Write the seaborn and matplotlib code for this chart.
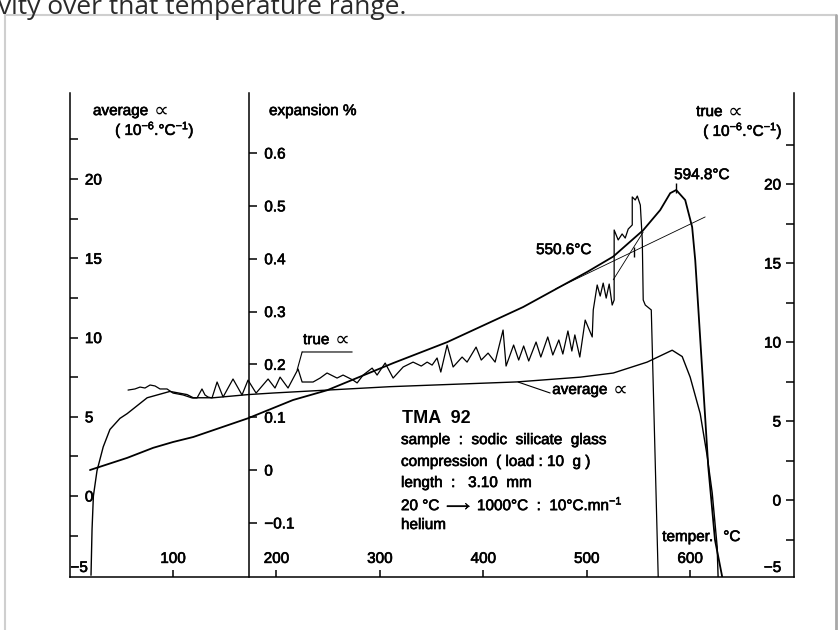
import matplotlib
matplotlib.use("Agg")
import matplotlib.pyplot as plt
import matplotlib.patheffects as pe
from matplotlib.lines import Line2D
import seaborn as sns

# ---- data ----
# average alpha (left scale, 10^-6 / degC)
avg_T = [20.7, 21.7, 23, 26.5, 32.5, 39, 48.7, 55.7, 75, 97, 113.5, 119.5, 139,
         172.6, 197, 310, 432.7, 493.7, 525.6, 558.4, 582.6, 592.3, 600, 609.7,
         616.5, 621.3, 626.1, 627]
avg_alpha = [-5.0, -2.1, 0, 1.6, 3.1, 4.2, 4.9, 5.2, 6.2, 6.6, 6.4, 6.2, 6.2,
             6.4, 6.5, 6.9, 7.2, 7.5, 7.76, 8.45, 9.2, 8.8, 7.5, 5.2,
             2.5, 0.2, -3.2, -5.1]

# true alpha (right scale, 10^-6 / degC)
true_T = [56.5, 63.2, 68.1, 72.9, 77.8, 82.6, 87.4, 94.2, 100.0, 109.7, 118.4,
          123.2, 128.0, 130.9, 133.8, 137.7, 142.6, 148.4, 158.0, 166.7, 172.5,
          180.3, 191.9, 198.6, 203.5, 211.2, 220.9, 224.8, 235.4, 242.2, 248.9,
          258.6, 264.4, 274.1, 278.0, 283.8, 292.5, 297.3, 305.1, 312.8, 322.5,
          332.1, 340.0, 345.7, 350.5, 355.3, 358.9, 365.0, 370.8, 379.5, 384.3,
          393.0, 398.0, 404.6, 411.4, 419.1, 422.0, 429.3, 434.2, 439.0, 443.9,
          451.0, 455.6, 462.3, 467.2, 473.0, 476.9, 481.8, 485.6, 488.5, 493.3,
          498.5, 505.3, 506.3, 510.1, 513.0, 515.9, 518.8, 521.7, 524.6, 526.5,
          526.5, 530.4, 534.2, 537.2, 540.1, 544.0, 544.0, 546.9, 548.9, 551.8,
          553.7, 554.6, 556.6, 562.4, 569.1]
true_alpha = [6.96, 7.03, 7.15, 7.09, 7.28, 7.22, 7.03, 7.03, 6.77, 6.65, 6.46,
              6.46, 7.03, 6.65, 6.52, 6.46, 7.47, 6.52, 7.66, 6.65, 7.59,
              6.77, 7.66, 7.09, 7.78, 7.09, 8.29, 7.47, 7.47, 7.72, 8.04,
              7.72, 7.91, 7.59, 7.41, 7.91, 8.35, 7.91, 8.67, 7.72, 8.42,
              8.73, 8.48, 8.73, 8.54, 8.99, 8.10, 9.81, 8.42, 9.05, 8.73,
              9.68, 8.86, 9.30, 8.73, 10.76, 8.48, 9.81, 8.86, 9.75, 8.80,
              10.00, 9.05, 10.32, 9.18, 10.13, 9.24, 10.70, 9.43, 10.45, 9.05,
              11.39, 10.32, 12.03, 13.61, 12.91, 13.73, 12.78, 13.67, 12.34, 12.66,
              17.09, 16.46, 16.84, 16.58, 17.15, 17.41, 19.18, 18.99, 19.24, 18.67,
              16.46, 12.66, 12.34, 12.03, -4.87]

# expansion % (middle scale)
exp_T = [19.7, 55.7, 80.8, 100, 119.6, 172.6, 216, 249, 313, 365, 438.5, 500.5,
         525.6, 554.6, 571, 580.7, 586.5, 595.2, 601.9, 604.9, 607.8, 617.5,
         624, 631]
exp_pct = [0.0, 0.023, 0.042, 0.053, 0.0625, 0.098, 0.1325, 0.151, 0.2025,
           0.242, 0.3085, 0.375, 0.404, 0.454, 0.492, 0.524, 0.530, 0.511,
           0.46, 0.397, 0.308, 0.006, -0.1325, -0.2025]

# tangent constructions for the 550.6 degC point
tan1_T = [470, 614.5]
tan1_pct = [0.343, 0.479]
tan2_T = [525.6, 554.6]
tan2_pct = [0.360, 0.4505]
marks_T = [545.8, 586.5]
marks_pct = [0.4125, 0.534]

alpha_ticks = [-2.5, 0, 2.5, 5, 7.5, 10, 12.5, 15, 17.5, 20, 22.5]
alpha_labels = ['', '0', '', '5', '', '10', '', '15', '', '20', '']
exp_ticks = [-0.1, 0, 0.1, 0.2, 0.3, 0.4, 0.5, 0.6]
exp_labels = ['\u22120.1', '0', '0.1', '0.2', '0.3', '0.4', '0.5', '0.6']
temp_ticks = [100, 200, 300, 400, 500, 600]

sns.set_theme(style="ticks", rc={
    'axes.edgecolor': 'black', 'xtick.color': 'black', 'ytick.color': 'black',
    'text.color': 'black', 'axes.linewidth': 1.1})
plt.rcParams['font.family'] = ['Liberation Sans', 'DejaVu Sans']
plt.rcParams['mathtext.fontset'] = 'custom'
plt.rcParams['mathtext.rm'] = 'Liberation Sans'
plt.rcParams['mathtext.it'] = 'Liberation Sans'
plt.rcParams['mathtext.bf'] = 'Liberation Sans:bold'

W, H = 838, 630
fig = plt.figure(figsize=(W / 100, H / 100), dpi=100)
fig.patch.set_facecolor('white')
x0, x1, yb, yt = 69.6, 793.6, 577, 93
ax = fig.add_axes([x0 / W, 1 - yb / H, (x1 - x0) / W, (yb - yt) / H])
ax.set_xlim(0, 700)
ax.set_ylim(-5.11, 25.43)
ax.patch.set_alpha(0)
ax2 = ax.twinx()
ax2.set_ylim(-0.2025, 0.7136)
ax3 = ax.twinx()
ax3.set_ylim(-4.87, 25.76)

for a in (ax, ax2, ax3):
    for s in a.spines.values():
        s.set_visible(False)
ax.spines['left'].set_visible(True)
ax.spines['bottom'].set_visible(True)
ax2.spines['right'].set_visible(True)
ax2.spines['right'].set_position(('data', 173.5))
ax3.spines['right'].set_visible(True)

fs = 11
heavy = [pe.withStroke(linewidth=0.45, foreground='black')]
ax.set_xticks(temp_ticks, [str(t) for t in temp_ticks])
ax.tick_params(axis='x', direction='in', length=5, width=1.1, pad=-8, labelsize=fs)
for l in ax.get_xticklabels():
    l.set_va('bottom')
ax.set_yticks(alpha_ticks, alpha_labels)
ax.tick_params(axis='y', direction='in', length=6, width=1.1, pad=-11, labelsize=fs)
for l in ax.get_yticklabels():
    l.set_ha('left')
ax2.set_yticks(exp_ticks, exp_labels)
ax2.tick_params(axis='y', direction='out', length=6, width=1.1, pad=5, labelsize=fs)
ax3.set_yticks(alpha_ticks, alpha_labels)
ax3.tick_params(axis='y', direction='in', length=6, width=1.1, pad=-9, labelsize=fs)
for l in ax3.get_yticklabels():
    l.set_ha('right')
for a in (ax, ax2, ax3):
    for l in a.get_xticklabels() + a.get_yticklabels():
        l.set_path_effects(heavy)

# curves
sns.lineplot(x=avg_T, y=avg_alpha, ax=ax, color='black', lw=1.0, sort=False, estimator=None)
sns.lineplot(x=true_T, y=true_alpha, ax=ax3, color='black', lw=0.9, sort=False, estimator=None)
sns.lineplot(x=exp_T, y=exp_pct, ax=ax2, color='black', lw=1.3, sort=False, estimator=None)
sns.lineplot(x=tan1_T, y=tan1_pct, ax=ax2, color='black', lw=0.6, sort=False, estimator=None)
sns.lineplot(x=tan2_T, y=tan2_pct, ax=ax2, color='black', lw=0.6, sort=False, estimator=None)
ax2.scatter(marks_T, marks_pct, marker='|', s=60, color='black', linewidths=1.0)


def alpha_sign(t):
    # the alpha sign of the original is drawn larger than the words
    ax.annotate('\u221d', xy=(1, 0.5), xycoords=t, xytext=(4, 0),
                textcoords='offset points', va='center', ha='left',
                fontsize=15, family='DejaVu Sans')


unit = '( 10$^{-6}$.°C$^{-1}$)'
labels = [(44, 23.09, unit, 'left'),
          (192.8, 24.29, 'expansion %', 'left'),
          (612.6, 23.03, unit, 'left'),
          (584.5, 20.25, '594.8°C', 'left'),
          (451, 15.52, '550.6°C', 'left'),
          (0.8, -4.54, '\u22125', 'left'),
          (688, -4.54, '\u22125', 'right'),
          (573, -2.59, 'temper.', 'left'),
          (632, -2.59, '°C', 'left')]
for tx, ty, s, ha in labels:
    ax.text(tx, ty, s, fontsize=fs, va='center', ha=ha, path_effects=heavy)

for tx, ty, s in [(22.6, 24.29, 'average'), (605.8, 24.23, 'true'),
                  (466.6, 6.69, 'average'), (225.7, 9.84, 'true')]:
    t = ax.text(tx, ty, s, fontsize=fs, va='center', ha='left', path_effects=heavy)
    alpha_sign(t)

ax.text(321.4, 4.92, 'TMA  92', fontsize=13, fontweight='bold', va='center', ha='left')
block = ['sample  :  sodic  silicate  glass',
         'compression  ( load : 10  g )',
         'length  :   3.10  mm',
         '20 °C $\\longrightarrow$ 1000°C  :  10°C.mn$^{-1}$',
         'helium']
block_y = [3.53, 2.15, 0.82, -0.50, -1.83]
for s, yy in zip(block, block_y):
    ax.text(320.4, yy, s, fontsize=fs, va='center', ha='left', path_effects=heavy)

# leaders to the curves
ax3.annotate('', xy=(220.0, 8.23), xytext=(224.8, 9.37),
             arrowprops=dict(arrowstyle='-', lw=0.8, color='black', shrinkA=0, shrinkB=0))
ax3.annotate('', xy=(273.2, 9.37), xytext=(224.8, 9.37),
             arrowprops=dict(arrowstyle='-', lw=0.8, color='black', shrinkA=0, shrinkB=0))
ax.annotate('', xy=(433.7, 7.19), xytext=(464.6, 6.5),
            arrowprops=dict(arrowstyle='-', lw=0.8, color='black', shrinkA=0, shrinkB=0))

# page decorations (screenshot frame and cut-off caption)
fig.text(-0.002, 1 - 14 / H, 'vity over that temperature range.', fontsize=19,
         family='Open Sans', color='#2a2a2a', va='baseline', ha='left')
fig.add_artist(Line2D([5 / W, 5 / W], [0, 1 - 15 / H], color='#cfcfcf', lw=1.5))
fig.add_artist(Line2D([5 / W, 836 / W], [1 - 15 / H, 1 - 15 / H], color='#cfcfcf', lw=1.5))
fig.add_artist(Line2D([836 / W, 836 / W], [0, 1 - 15 / H], color='#a8a8a8', lw=2))

fig.savefig('out.png', dpi=100)
